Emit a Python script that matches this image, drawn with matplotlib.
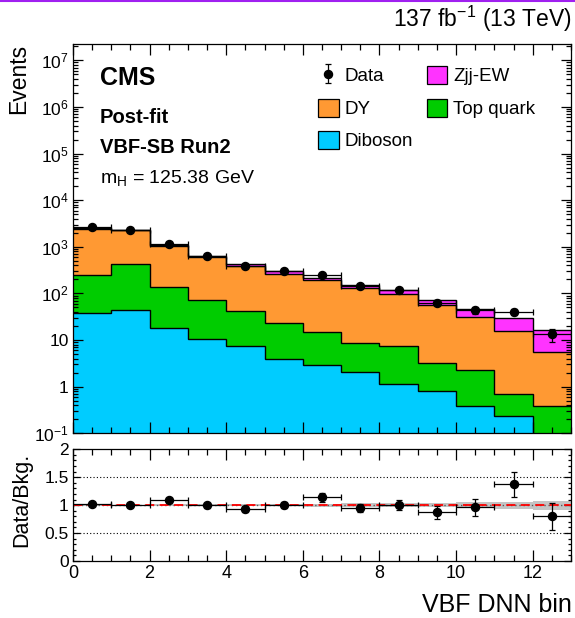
import numpy as np
import matplotlib
matplotlib.use('Agg')
import matplotlib.pyplot as plt
from matplotlib.ticker import FixedLocator, MultipleLocator, NullFormatter, FixedFormatter
from matplotlib.patches import Patch
from matplotlib.lines import Line2D

# ---------------- data ----------------
bin_edges = list(range(14))
diboson = [38.5, 44.0, 17.8, 10.3, 7.4, 3.85, 2.9, 2.03, 1.12, 0.80, 0.39, 0.238, 0.05]
top_quark = [208.5, 374.0, 121.2, 61.7, 35.1, 19.65, 12.2, 6.47, 6.28, 2.50, 1.88, 0.447, 0.335]
dy = [2223, 1857, 911, 539, 342.5, 240.5, 177.9, 123.5, 87.6, 52.7, 29.3, 15.1, 5.06]
zjj_ew = [80, 75, 20, 30, 40, 32, 23, 23, 22, 17, 13.9, 13.5, 11.05]
data = [2625, 2350, 1165, 638, 395, 296, 246, 147, 117, 63.5, 43.7, 40.3, 13.2]
data_err = [51, 48, 34, 25, 20, 17, 16, 12, 11, 8.0, 6.8, 6.6, 4.0]
bkg_rel_unc = [0.01, 0.01, 0.012, 0.015, 0.015, 0.02, 0.025, 0.03, 0.03, 0.04, 0.05, 0.06, 0.08]

main_yticks = [0.1, 1, 10, 1e2, 1e3, 1e4, 1e5, 1e6, 1e7]
main_yticklabels = [r'$10^{-1}$', '1', '10', r'$10^{2}$', r'$10^{3}$', r'$10^{4}$',
                    r'$10^{5}$', r'$10^{6}$', r'$10^{7}$']
ratio_yticks = [0, 0.5, 1, 1.5, 2]
ratio_yticklabels = ['0', '0.5', '1', '1.5', '2']
xticks = [0, 2, 4, 6, 8, 10, 12]

labels = ['Data', 'DY', 'Diboson', 'Zjj-EW', 'Top quark']
colors = {'Diboson': '#00ccff', 'Top quark': '#00cc00', 'DY': '#ff9933', 'Zjj-EW': '#ff33ff'}

# ---------------- style ----------------
plt.rcParams['font.family'] = ['Liberation Sans', 'DejaVu Sans']
plt.rcParams['mathtext.fontset'] = 'custom'
plt.rcParams['mathtext.rm'] = 'Liberation Sans'
plt.rcParams['mathtext.it'] = 'Liberation Sans:italic'
plt.rcParams['mathtext.bf'] = 'Liberation Sans:bold'
plt.rcParams['axes.linewidth'] = 0.9

W, H = 575, 618
fig = plt.figure(figsize=(W / 100, H / 100), dpi=100)


def fx(p):
    return p / W


def fy(p):
    return 1 - p / H


ax = fig.add_axes([fx(73), fy(433.3), fx(571) - fx(73), fy(43.5) - fy(433.3)])
rax = fig.add_axes([fx(73), fy(561), fx(571) - fx(73), fy(449.3) - fy(561)])

edges = np.array(bin_edges, dtype=float)
centers = 0.5 * (edges[:-1] + edges[1:])
stack = np.cumsum([diboson, top_quark, dy, zjj_ew], axis=0)
stack_cols = [colors['Diboson'], colors['Top quark'], colors['DY'], colors['Zjj-EW']]

ax.set_yscale('log')
for i in reversed(range(4)):
    ax.stairs(stack[i], edges, baseline=1e-4, fill=True, color=stack_cols[i], lw=0, zorder=1)
for i in range(4):
    ax.stairs(stack[i], edges, baseline=None, color='k', lw=1.0, zorder=2)

ax.errorbar(centers, data, xerr=0.5, yerr=data_err, fmt='o', color='k', ms=5.8,
            elinewidth=0.9, capsize=2, capthick=0.9, zorder=5)

ax.set_xlim(0, 13)
ax.set_ylim(0.1, 2.3e7)
ax.yaxis.set_major_locator(FixedLocator(main_yticks))
ax.yaxis.set_major_formatter(FixedFormatter(main_yticklabels))
minors = [m * 10.0 ** e for e in range(-1, 8) for m in range(2, 10)]
ax.yaxis.set_minor_locator(FixedLocator(minors))
ax.yaxis.set_minor_formatter(NullFormatter())
ax.xaxis.set_major_locator(FixedLocator(xticks))
ax.xaxis.set_minor_locator(MultipleLocator(0.5))
ax.tick_params(which='both', direction='in', top=True, right=True, labelbottom=False,
               labelsize=12.5, width=0.9)
ax.tick_params(axis='x', which='major', length=8)
ax.tick_params(axis='x', which='minor', length=4)
ax.tick_params(axis='y', which='major', length=7, pad=3)
ax.tick_params(axis='y', which='minor', length=3.5)

# legend
data_proxy = ax.errorbar([np.nan], [np.nan], yerr=[1], fmt='o', color='k', ms=5.8,
                         elinewidth=0.9, capsize=2, capthick=0.9)
handles = [data_proxy,
           Patch(facecolor=colors['DY'], edgecolor='k', lw=0.9),
           Patch(facecolor=colors['Diboson'], edgecolor='k', lw=0.9),
           Patch(facecolor=colors['Zjj-EW'], edgecolor='k', lw=0.9),
           Patch(facecolor=colors['Top quark'], edgecolor='k', lw=0.9)]
ax.legend(handles, labels, ncol=2, loc='upper left', bbox_to_anchor=(fx(318), fy(66)),
          bbox_transform=fig.transFigure, frameon=False, fontsize=13.5,
          handlelength=1.1, handleheight=1.1, handletextpad=0.3, columnspacing=0.75,
          labelspacing=0.7, borderpad=0, borderaxespad=0)

# ratio panel
total = stack[3]
ratio = np.array(data) / total
ratio_err = np.array(data_err) / total
unc = np.array(bkg_rel_unc)
rax.stairs(1 + unc, edges, baseline=1 - unc, fill=True, color='#c4c4c4', lw=0, zorder=1)
for yv in (0.5, 1.5):
    rax.axhline(yv, color='k', ls=(0, (1, 2)), lw=0.8, zorder=2)
rax.axhline(1, color='0.35', ls=(0, (1, 2)), lw=1.0, zorder=2)
rax.axhline(1, color='red', ls=(0, (5, 3)), lw=1.3, zorder=3)
rax.errorbar(centers, ratio, xerr=0.5, yerr=ratio_err, fmt='o', color='k', ms=5.8,
             elinewidth=0.9, capsize=2, capthick=0.9, zorder=5)
rax.set_xlim(0, 13)
rax.set_ylim(0, 2)
rax.yaxis.set_major_locator(FixedLocator(ratio_yticks))
rax.yaxis.set_major_formatter(FixedFormatter(ratio_yticklabels))
rax.yaxis.set_minor_locator(MultipleLocator(0.1))
rax.xaxis.set_major_locator(FixedLocator(xticks))
rax.xaxis.set_minor_locator(MultipleLocator(0.5))
rax.tick_params(which='both', direction='in', top=True, right=True, labelsize=13, width=0.9)
rax.tick_params(axis='y', labelsize=12.5)
rax.tick_params(axis='x', which='major', length=8, pad=3)
rax.tick_params(axis='x', which='minor', length=4)
rax.tick_params(axis='y', which='major', length=5, pad=3)
rax.tick_params(axis='y', which='minor', length=2.5)

# texts
fig.text(fx(572), fy(27), r'137 fb$^{-1}$ (13 TeV)', ha='right', va='baseline', fontsize=16.5)
fig.text(fx(19), fy(44), 'Events', rotation=90, ha='center', va='top', fontsize=16.5)
fig.text(fx(22), fy(500), 'Data/Bkg.', rotation=90, ha='center', va='center', fontsize=15.5)
fig.text(fx(572), fy(612), 'VBF DNN bin', ha='right', va='baseline', fontsize=18)
fig.text(fx(100), fy(85), 'CMS', weight='bold', fontsize=18, va='baseline')
fig.text(fx(100), fy(122.7), 'Post-fit', weight='bold', fontsize=14.5, va='baseline')
fig.text(fx(100), fy(153.3), 'VBF-SB Run2', weight='bold', fontsize=14.5, va='baseline')
fig.text(fx(100), fy(183.3), r'$\mathrm{m}_{\mathrm{H}}$ = 125.38 GeV', fontsize=14, va='baseline')

fig.add_artist(Line2D([0, 1], [1 - 1 / H, 1 - 1 / H], transform=fig.transFigure,
                      color='#a020f0', lw=1.5))

fig.savefig('out.png', dpi=100)
